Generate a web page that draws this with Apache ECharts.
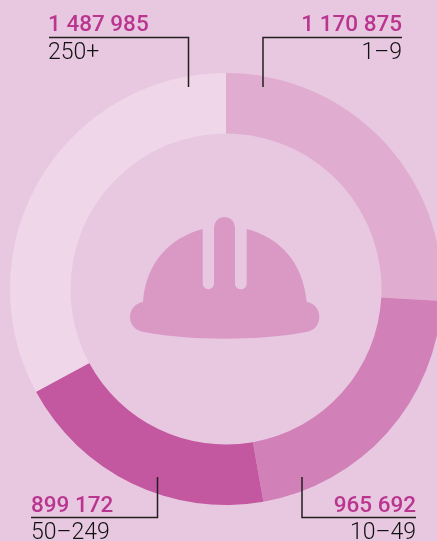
<!DOCTYPE html>
<html>
<head>
<meta charset="utf-8">
<style>
  html, body { margin: 0; padding: 0; background: #e8c8e0; }
  #chart { width: 437px; height: 541px; }
</style>
</head>
<body>
<div id="chart"></div>
<script src="https://cdn.jsdelivr.net/npm/echarts@6/dist/echarts.min.js"></script>
<script>
const categories = ['1–9', '10–49', '50–249', '250+']
const seriesValues = [1170875, 965692, 899172, 1487985]
const sliceColors = ['#e0acd0', '#d180b8', '#c358a0', '#f0d6e9']

const cx = 226
const cy = 289

// helmet icon in the middle of the ring
const helmetPath = 'M143,302 C146,262 170,238 202.7,229 L202.7,283.5 A5.65,5.65 0 0 0 214,283.5 ' +
  'L214,227.5 A10.5,10.5 0 0 1 235,227.5 L235,283.5 A5.85,5.85 0 0 0 246.7,283.5 L246.7,229 ' +
  'C280,238 303,262 306.7,302 C314,303 319.3,309 319.3,317 C319.3,325 314,331 306,332 ' +
  'C280,337 250,338.7 225,338.7 C200,338.7 170,337 144,332 C136,331 130,325 130,317 C130,309 136,303 143,302 Z'

echarts.graphic.registerShape('helmet', echarts.graphic.extendPath(helmetPath, {}))

function fmt(v) {
  return String(v).replace(/\B(?=(\d{3})+$)/g, ' ')
}

// one callout: value above the rule, category under it
function callout(i, align, textX, valueY, nameY, points) {
  return [{
    type: 'polyline',
    silent: true,
    z: 5,
    shape: { points },
    style: { stroke: '#231f20', lineWidth: 1.5, fill: null }
  }, {
    type: 'text',
    silent: true,
    z: 5,
    style: {
      x: textX, y: valueY, text: fmt(seriesValues[i]), align, verticalAlign: 'middle',
      font: '500 22.5px Roboto', fill: '#b93590'
    }
  }, {
    type: 'text',
    silent: true,
    z: 5,
    style: {
      x: textX, y: nameY, text: categories[i], align, verticalAlign: 'middle',
      font: '300 23px Roboto', fill: '#111111'
    }
  }]
}

const chart = echarts.init(document.getElementById('chart'))

chart.setOption({
  backgroundColor: '#e8c8e0',
  animation: false,
  graphic: {
    elements: [
      { type: 'helmet', silent: true, z: 5, style: { fill: '#da98c4' } },
      ...callout(0, 'right', 402, 25.5, 53.5, [[263, 87], [263, 37.5], [402, 37.5]]),
      ...callout(1, 'right', 416, 506, 533.5, [[302, 477], [302, 517.5], [416, 517.5]]),
      ...callout(2, 'left', 31, 506, 533.5, [[157.5, 477], [157.5, 517.5], [31, 517.5]]),
      ...callout(3, 'left', 48, 25.5, 53.5, [[188.5, 87], [188.5, 37.5], [49, 37.5]])
    ]
  },
  series: [{
    type: 'pie',
    center: [cx, cy],
    radius: [155.5, 216],
    startAngle: 90,
    clockwise: true,
    silent: true,
    label: { show: false },
    labelLine: { show: false },
    data: categories.map((name, i) => ({
      name,
      value: seriesValues[i],
      itemStyle: { color: sliceColors[i] }
    }))
  }]
})
</script>
</body>
</html>
